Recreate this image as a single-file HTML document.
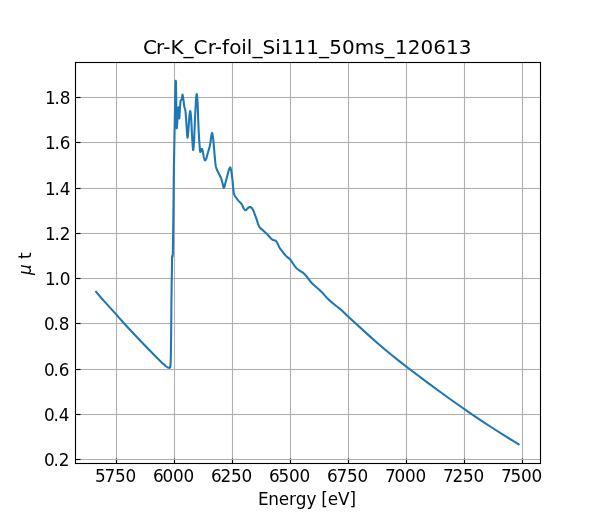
<!DOCTYPE html>
<html lang="en"><head><meta charset="utf-8"><title>Cr-K_Cr-foil_Si111_50ms_120613</title>
<style>html,body{margin:0;padding:0;background:#fff;}body{width:600px;height:520px;overflow:hidden;}svg{display:block;}text{font-family:"DejaVu Sans","Liberation Sans",sans-serif;fill:#000;}</style></head><body>
<svg width="600" height="520" viewBox="0 0 600 520">
<rect x="0" y="0" width="600" height="520" fill="#ffffff"/>
<g fill="#b0b0b0">
<rect x="115.945" y="62.400" width="1.110" height="400.400"/>
<rect x="173.945" y="62.400" width="1.110" height="400.400"/>
<rect x="231.945" y="62.400" width="1.110" height="400.400"/>
<rect x="289.945" y="62.400" width="1.110" height="400.400"/>
<rect x="347.945" y="62.400" width="1.110" height="400.400"/>
<rect x="405.945" y="62.400" width="1.110" height="400.400"/>
<rect x="463.945" y="62.400" width="1.110" height="400.400"/>
<rect x="521.945" y="62.400" width="1.110" height="400.400"/>
</g><g fill="#000">
<rect x="115.945" y="458.500" width="1.110" height="5.000"/>
<rect x="173.945" y="458.500" width="1.110" height="5.000"/>
<rect x="231.945" y="458.500" width="1.110" height="5.000"/>
<rect x="289.945" y="458.500" width="1.110" height="5.000"/>
<rect x="347.945" y="458.500" width="1.110" height="5.000"/>
<rect x="405.945" y="458.500" width="1.110" height="5.000"/>
<rect x="463.945" y="458.500" width="1.110" height="5.000"/>
<rect x="521.945" y="458.500" width="1.110" height="5.000"/>
</g><g fill="#b0b0b0">
<rect x="75.000" y="96.945" width="465.000" height="1.110"/>
<rect x="75.000" y="141.945" width="465.000" height="1.110"/>
<rect x="75.000" y="187.945" width="465.000" height="1.110"/>
<rect x="75.000" y="232.945" width="465.000" height="1.110"/>
<rect x="75.000" y="277.945" width="465.000" height="1.110"/>
<rect x="75.000" y="322.945" width="465.000" height="1.110"/>
<rect x="75.000" y="368.945" width="465.000" height="1.110"/>
<rect x="75.000" y="413.945" width="465.000" height="1.110"/>
<rect x="75.000" y="458.945" width="465.000" height="1.110"/>
</g><g fill="#000">
<rect x="75.500" y="96.945" width="5.000" height="1.110"/>
<rect x="75.500" y="141.945" width="5.000" height="1.110"/>
<rect x="75.500" y="187.945" width="5.000" height="1.110"/>
<rect x="75.500" y="232.945" width="5.000" height="1.110"/>
<rect x="75.500" y="277.945" width="5.000" height="1.110"/>
<rect x="75.500" y="322.945" width="5.000" height="1.110"/>
<rect x="75.500" y="368.945" width="5.000" height="1.110"/>
<rect x="75.500" y="413.945" width="5.000" height="1.110"/>
<rect x="75.500" y="458.945" width="5.000" height="1.110"/>
</g>
<clipPath id="c"><rect x="75" y="62.4" width="465" height="400.4"/></clipPath>
<path clip-path="url(#c)" d="M96.15 291.80 L100.00 296.45 L104.35 301.41 L116.15 314.41 L123.95 323.28 L129.75 329.55 L140.35 340.67 L151.75 352.45 L162.15 362.98 L163.55 364.26 L163.75 364.30 L164.20 364.20 L164.35 364.32 L164.80 365.20 L165.35 365.77 L166.30 366.50 L167.35 367.19 L168.15 367.56 L168.95 367.84 L169.40 367.90 L169.55 367.87 L169.75 367.72 L169.95 367.46 L170.20 367.00 L170.35 366.33 L170.55 364.34 L170.70 362.00 L170.75 360.57 L171.15 334.33 L171.45 300.00 L171.75 279.17 L172.00 265.00 L172.10 256.00 L172.15 256.04 L172.35 256.64 L172.45 256.80 L172.55 256.60 L172.80 254.50 L172.95 247.17 L173.50 205.00 L173.85 170.00 L174.35 142.39 L175.35 90.05 L175.55 81.86 L175.62 80.70 L175.75 80.77 L175.90 81.00 L175.95 81.82 L176.55 119.94 L176.75 127.88 L176.80 128.30 L176.95 127.36 L177.40 120.00 L177.95 111.90 L178.15 109.37 L178.35 107.72 L178.50 107.30 L178.55 107.42 L178.75 109.87 L179.15 117.38 L179.30 118.40 L179.35 118.25 L179.55 115.41 L179.80 110.50 L180.20 104.50 L180.55 101.02 L180.65 100.60 L180.75 100.42 L180.95 100.18 L181.55 99.65 L181.75 99.44 L181.90 99.20 L181.95 99.02 L182.35 95.26 L182.50 94.60 L182.55 94.64 L182.75 95.50 L183.60 101.00 L184.15 105.57 L184.35 106.74 L184.55 107.49 L184.95 108.61 L185.15 109.30 L185.35 110.30 L185.55 112.00 L185.95 117.14 L186.75 128.76 L187.15 135.13 L187.35 137.17 L187.50 137.70 L187.55 137.66 L187.75 136.89 L187.95 135.37 L188.35 131.48 L188.55 128.75 L189.15 118.72 L189.35 116.54 L189.75 112.97 L189.95 111.67 L190.15 111.03 L190.20 111.00 L190.35 111.26 L190.55 112.26 L191.00 116.00 L191.15 117.75 L191.55 125.12 L191.95 133.65 L192.55 143.51 L192.75 146.50 L192.95 148.80 L193.15 149.95 L193.20 150.00 L193.35 149.57 L193.55 147.91 L194.00 142.00 L194.15 139.56 L194.55 130.17 L195.15 114.84 L195.95 100.93 L196.15 98.05 L196.35 95.81 L196.55 94.44 L196.70 94.10 L196.75 94.14 L196.95 94.99 L197.15 96.73 L197.55 101.77 L197.75 106.57 L198.20 120.00 L198.75 132.15 L199.20 140.00 L199.75 147.95 L199.95 150.21 L200.15 151.64 L200.30 152.00 L200.35 151.99 L200.55 151.81 L201.00 151.00 L201.15 150.65 L201.55 149.39 L201.75 148.93 L201.90 148.80 L201.95 148.81 L202.15 149.12 L202.35 149.72 L202.95 152.17 L203.75 156.94 L204.00 158.00 L204.55 159.63 L204.75 160.06 L204.95 160.33 L205.15 160.39 L205.35 160.28 L205.55 160.03 L205.95 159.27 L206.35 158.39 L206.75 157.16 L207.80 153.00 L209.15 148.67 L209.55 147.05 L210.15 144.01 L210.60 141.30 L211.15 136.94 L211.55 134.67 L211.75 133.72 L211.95 133.07 L212.10 132.90 L212.15 132.92 L212.35 133.43 L212.55 134.44 L213.15 138.64 L213.55 142.59 L214.75 156.63 L215.35 162.92 L215.55 164.61 L215.80 166.20 L216.15 167.65 L216.60 169.00 L217.15 170.33 L219.15 174.25 L220.35 176.51 L221.00 178.00 L221.55 179.63 L222.55 183.18 L223.35 186.91 L223.55 187.56 L223.75 187.89 L223.80 187.90 L223.95 187.81 L224.15 187.43 L224.55 186.14 L225.75 181.84 L227.55 174.82 L228.75 170.31 L229.15 169.14 L229.75 167.87 L229.95 167.56 L230.15 167.41 L230.20 167.40 L230.35 167.51 L230.55 167.93 L230.95 169.41 L231.35 171.22 L231.75 173.82 L232.55 180.67 L233.15 187.59 L233.55 191.01 L233.75 192.46 L233.95 193.61 L234.15 194.35 L234.55 195.32 L234.95 196.04 L236.35 198.02 L237.55 199.68 L238.55 200.88 L239.95 202.25 L240.95 203.29 L241.55 204.08 L242.30 205.30 L242.75 206.32 L243.35 207.84 L243.70 208.50 L244.55 209.66 L244.95 210.06 L245.15 210.20 L245.35 210.28 L245.55 210.30 L245.75 210.24 L245.95 210.13 L246.35 209.76 L247.35 208.63 L248.95 207.28 L249.35 207.04 L249.75 206.91 L249.95 206.90 L250.35 207.00 L250.95 207.35 L251.55 207.80 L252.15 208.49 L252.75 209.38 L253.15 210.14 L253.95 212.08 L255.55 216.29 L256.55 219.13 L258.15 224.16 L258.75 225.70 L259.15 226.47 L259.75 227.40 L260.50 228.30 L261.15 228.91 L263.10 230.40 L265.35 232.46 L267.75 234.85 L269.15 236.47 L270.35 237.87 L271.20 238.70 L272.15 239.46 L272.75 239.83 L273.35 240.07 L275.15 240.52 L275.80 240.80 L275.95 240.91 L276.15 241.12 L276.55 241.72 L277.95 244.36 L279.35 247.30 L279.95 248.33 L280.95 249.68 L284.15 253.77 L285.75 255.62 L286.75 256.64 L287.95 257.62 L289.55 258.87 L290.40 259.70 L290.95 260.38 L292.15 262.20 L294.55 265.79 L295.55 267.12 L296.55 268.16 L297.75 269.23 L299.35 270.45 L300.75 271.32 L302.55 272.40 L303.55 273.14 L304.35 273.91 L305.95 275.73 L309.75 280.58 L311.35 282.50 L312.75 283.97 L314.75 285.83 L319.55 289.95 L321.35 291.65 L323.15 293.57 L326.75 297.62 L328.35 299.24 L330.95 301.61 L334.35 304.46 L337.55 307.01 L339.95 308.86 L342.15 310.79 L346.75 315.20 L350.55 318.75 L367.95 334.64 L376.75 342.42 L384.35 348.94 L391.95 355.28 L398.35 360.43 L407.15 367.24 L427.55 382.60 L442.75 393.74 L448.55 397.99 L458.15 404.77 L471.95 414.36 L482.35 421.33 L492.95 428.25 L504.55 435.62 L515.55 442.43 L518.60 444.28" fill="none" stroke="#1f77b4" stroke-width="2.083" stroke-linejoin="round" stroke-linecap="square"/>
<g fill="#000">
<rect x="74.945" y="61.945" width="1.110" height="402.110"/>
<rect x="539.945" y="61.945" width="1.110" height="402.110"/>
<rect x="74.945" y="61.945" width="466.110" height="1.110"/>
<rect x="74.945" y="462.945" width="466.110" height="1.110"/>
</g>
<text transform="translate(115.05 482.30) scale(1 1.06)" font-size="16.867px" x="-20.16 -10.58 -0.01 10.57">5750</text>
<text transform="translate(173.05 482.30) scale(1 1.06)" font-size="16.867px" x="-20.16 -10.58 -0.01 10.57">6000</text>
<text transform="translate(231.05 482.30) scale(1 1.06)" font-size="16.867px" x="-20.16 -10.58 -0.01 10.57">6250</text>
<text transform="translate(289.05 482.30) scale(1 1.06)" font-size="16.867px" x="-20.16 -10.58 -0.01 10.57">6500</text>
<text transform="translate(347.05 482.30) scale(1 1.06)" font-size="16.867px" x="-20.16 -10.58 -0.01 10.57">6750</text>
<text transform="translate(405.05 482.30) scale(1 1.06)" font-size="16.867px" x="-20.16 -10.58 -0.01 10.57">7000</text>
<text transform="translate(463.05 482.30) scale(1 1.06)" font-size="16.867px" x="-20.16 -10.58 -0.01 10.57">7250</text>
<text transform="translate(521.05 482.30) scale(1 1.06)" font-size="16.867px" x="-20.16 -10.58 -0.01 10.57">7500</text>
<text transform="translate(306.75 505.00) scale(1 1.09)" font-size="16.867px" x="-48.79 -38.53 -27.96 -17.72 -10.95 -0.38 9.22 14.46 20.91 31.16 42.82">Energy [eV]</text>
<text transform="translate(69.89 104.18) scale(1 1.06)" font-size="16.867px" x="-24.93 -15.51 -10.20">1.8</text>
<text transform="translate(69.89 149.43) scale(1 1.06)" font-size="16.867px" x="-24.93 -15.51 -10.20">1.6</text>
<text transform="translate(69.89 194.68) scale(1 1.06)" font-size="16.867px" x="-24.93 -15.51 -10.20">1.4</text>
<text transform="translate(69.89 239.93) scale(1 1.06)" font-size="16.867px" x="-24.93 -15.51 -10.20">1.2</text>
<text transform="translate(69.89 285.18) scale(1 1.06)" font-size="16.867px" x="-24.93 -15.51 -10.20">1.0</text>
<text transform="translate(69.89 330.43) scale(1 1.06)" font-size="16.867px" x="-25.93 -16.51 -11.20">0.8</text>
<text transform="translate(69.89 375.68) scale(1 1.06)" font-size="16.867px" x="-25.93 -16.51 -11.20">0.6</text>
<text transform="translate(69.89 420.93) scale(1 1.06)" font-size="16.867px" x="-25.93 -16.51 -11.20">0.4</text>
<text transform="translate(69.89 466.18) scale(1 1.06)" font-size="16.867px" x="-25.93 -16.51 -11.20">0.2</text>
<text transform="translate(306.75 54.07) scale(1 0.95)" font-size="20px" x="-163.79 -150.78 -143.53 -136.25 -123.33 -113.27 -99.00 -92.00 -84.73 -77.63 -65.59 -59.97 -54.37 -44.30 -31.55 -25.95 -13.16 -0.63 12.16 22.45 35.24 48.02 67.55 77.78 88.34 101.12 113.66 126.42 139.21 151.99">Cr-K_Cr-foil_Si111_50ms_120613</text>
<g transform="translate(31.60 275.10) rotate(-90)"><text font-size="16.867px"><tspan x="0" y="-0.80" font-style="oblique">μ</tspan><tspan x="10.85" y="-0.80"> t</tspan></text></g>
</svg></body></html>
